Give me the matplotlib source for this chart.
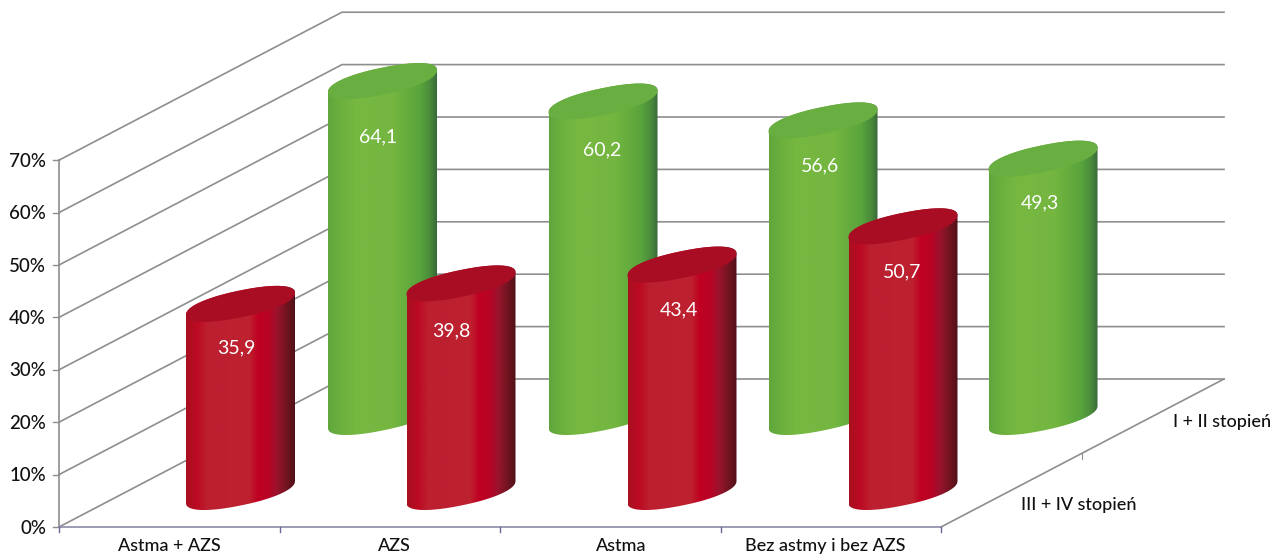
import matplotlib
matplotlib.use("Agg")
import matplotlib.pyplot as plt
import numpy as np
from matplotlib.colors import LinearSegmentedColormap
from matplotlib.patches import PathPatch, Polygon
from matplotlib.path import Path

# dane
kategorie = ["Astma + AZS", "AZS", "Astma", "Bez astmy i bez AZS"]
stopnie = ["I + II stopień", "III + IV stopień"]
wartosci_zielone = [64.1, 60.2, 56.6, 49.3]
wartosci_czerwone = [35.9, 39.8, 43.4, 50.7]
podzialka = [0, 10, 20, 30, 40, 50, 60, 70]

# rzut ukosny w pikselach
X0, Y0 = 59, 527
SZER = 882
DX, DY = 283, 148
PX_NA_PROC = 5.24

plt.rcParams["font.family"] = ["Lato", "DejaVu Sans"]

fig = plt.figure(figsize=(12.85, 5.58), dpi=100)
ax = fig.add_axes([0, 0, 1, 1])
ax.set_xlim(0, 1285)
ax.set_ylim(558, 0)
ax.axis("off")

SZARY = "#8e8e8e"
CZARNY = "#111111"
for p in podzialka:
    y = Y0 - p * PX_NA_PROC
    ax.plot([X0, X0 + DX, X0 + DX + SZER], [y, y - DY, y - DY], color=SZARY, lw=1.2, zorder=1)
    ax.plot([X0 - 6, X0], [y, y], color=SZARY, lw=1, zorder=1)
    ax.text(46, y + 1, f"{p}%", ha="right", va="center", fontsize=13.5, color=CZARNY, fontweight="medium")

ax.plot([X0, X0], [Y0, Y0 - 70 * PX_NA_PROC], color=SZARY, lw=1.2, zorder=1)
ax.plot([X0 + SZER, X0 + SZER + DX], [Y0, Y0 - DY], color=SZARY, lw=1.2, zorder=1)
ax.plot([X0, X0 + SZER], [Y0, Y0], color="#8a8aa8", lw=1.2, zorder=1)

# podzialka na osi kategorii i glebokosci
for i in range(5):
    x = X0 + i * SZER / 4
    ax.plot([x, x], [Y0, Y0 + 5], color="#6a6a9a", lw=1, zorder=1)
ax.plot([1082, 1082], [453, 459], color=SZARY, lw=0.8, zorder=1)

srodki_etykiet = [169, 394, 621, 825]
for xe, nazwa in zip(srodki_etykiet, kategorie):
    ax.text(xe, 546, nazwa, ha="center", va="center", fontsize=13, color=CZARNY, fontweight="medium")
ax.text(1222, 422, stopnie[0], ha="center", va="center", fontsize=13, color=CZARNY, fontweight="medium")
ax.text(1079, 505, stopnie[1], ha="center", va="center", fontsize=13, color=CZARNY, fontweight="medium")

cm_zielony = LinearSegmentedColormap.from_list("zielony", [
    (0, "#5fa63c"), (0.12, "#6cb03e"), (0.25, "#76b840"), (0.6, "#74b640"),
    (0.85, "#58a43c"), (0.94, "#4a8a3c"), (1, "#386838")])
cm_czerwony = LinearSegmentedColormap.from_list("czerwony", [
    (0, "#a8101f"), (0.1, "#bc0a22"), (0.2, "#bc2030"), (0.58, "#be2230"),
    (0.66, "#c00022"), (0.76, "#b80426"), (0.84, "#98142c"), (0.93, "#701420"), (1, "#501018")])

POL_A = 54.5   # polowa szerokosci walca
POCHYL = 11    # pochylenie elipsy
POL_H = 13.5
WYK = 0.9      # elipsa lekko kwadratowa, jak w wykresach 3D


def kp(a):
    return np.sign(a) * np.abs(a) ** WYK


t = np.linspace(0, 2 * np.pi, 181)


def walec(cx, y_dol, wartosc, cmap, kolor_gora, zorder):
    y_gora = y_dol - wartosc * PX_NA_PROC
    # dolna czesc elipsy od prawej krawedzi do lewej, potem gorna elipsa z powrotem
    td = np.linspace(0, np.pi, 60)
    xd = cx + POL_A * kp(np.cos(td))
    yd = y_dol - POCHYL * kp(np.cos(td)) + POL_H * kp(np.sin(td))
    tg = np.linspace(np.pi, 2 * np.pi, 60)
    xg = cx + POL_A * kp(np.cos(tg))
    yg = y_gora - POCHYL * kp(np.cos(tg)) + POL_H * kp(np.sin(tg))
    obrys = np.column_stack([np.r_[xd, xg], np.r_[yd, yg]])
    lacznie = Path(np.vstack([obrys, obrys[0]]), closed=True)
    grad = np.linspace(0, 1, 256).reshape(1, -1)
    im = ax.imshow(grad, cmap=cmap, extent=[cx - POL_A, cx + POL_A, y_dol + 30, y_gora - 30],
                   aspect="auto", zorder=zorder)
    im.set_clip_path(PathPatch(lacznie, transform=ax.transData))
    # wieczko
    xe = cx + POL_A * kp(np.cos(t))
    ye = y_gora - POCHYL * kp(np.cos(t)) + POL_H * kp(np.sin(t))
    ax.add_patch(Polygon(np.column_stack([xe, ye]), closed=True, fc=kolor_gora, ec="none", zorder=zorder + 0.1))
    return y_gora


srodki_z = [382.5, 603, 823, 1043]
srodki_c = [240.5, 461, 682, 903]
przes_z = [(-4, 56), (-1, 48.5), (-3, 45), (-3, 44)]
przes_c = [(-4, 44), (-10, 47), (-3, 45), (-1, 46)]

for cx, v, (dx, dy) in zip(srodki_z, wartosci_zielone, przes_z):
    yg = walec(cx, 417, v, cm_zielony, "#69ae40", 2)
    ax.text(cx + dx, yg + dy, f"{v:.1f}".replace(".", ","), color="white", ha="center", va="center",
            fontsize=14, zorder=3)
for cx, v, (dx, dy) in zip(srodki_c, wartosci_czerwone, przes_c):
    yg = walec(cx, 492, v, cm_czerwony, "#a80d24", 4)
    ax.text(cx + dx, yg + dy, f"{v:.1f}".replace(".", ","), color="white", ha="center", va="center",
            fontsize=14, zorder=5)

ax.set_xlim(0, 1285)
ax.set_ylim(558, 0)
fig.savefig("out.png", dpi=100)
